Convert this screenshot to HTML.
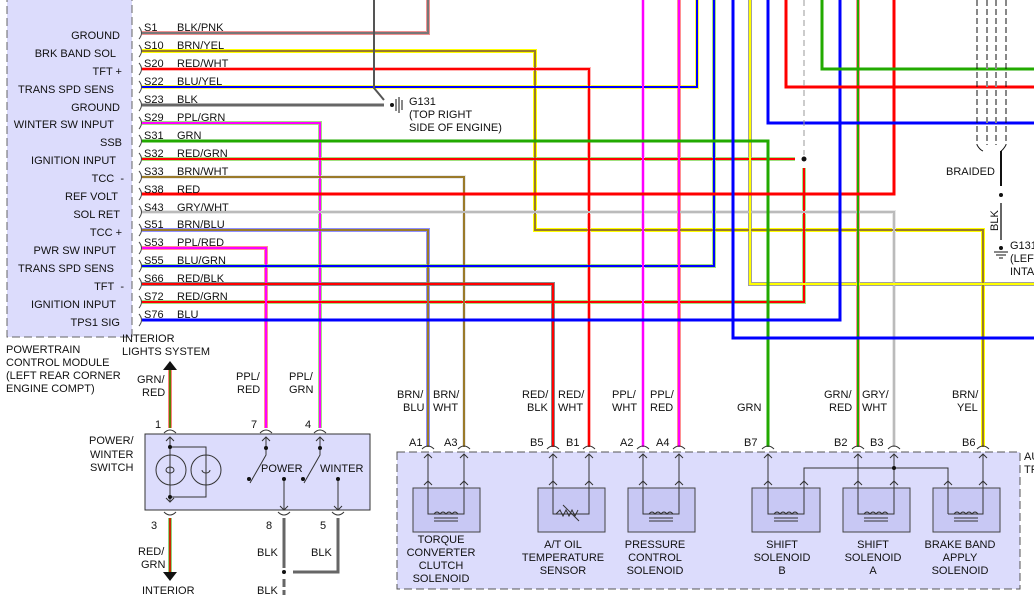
<!DOCTYPE html>
<html><head><meta charset="utf-8"><style>
body{margin:0;background:#fff}
svg{display:block;font-family:"Liberation Sans",sans-serif;font-size:11px}
.w{fill:none;stroke-linejoin:miter}
</style></head><body>
<svg width="1034" height="595" viewBox="0 0 1034 595" xmlns="http://www.w3.org/2000/svg">
<rect x="7" y="-2" width="125" height="339" fill="#dcdcfc" stroke="#666" stroke-dasharray="8,4"/>
<g text-anchor="end" fill="#111">
<text x="120" y="39">GROUND</text><text x="116" y="57">BRK BAND SOL</text><text x="122" y="75">TFT +</text>
<text x="114" y="93">TRANS SPD SENS</text><text x="120" y="111">GROUND</text><text x="114" y="128">WINTER SW INPUT</text>
<text x="122" y="146">SSB</text><text x="116" y="164">IGNITION INPUT</text><text x="124" y="182">TCC&#160;&#160;-</text>
<text x="118" y="200">REF VOLT</text><text x="120" y="218">SOL RET</text><text x="122" y="236">TCC +</text>
<text x="116" y="254">PWR SW INPUT</text><text x="114" y="272">TRANS SPD SENS</text><text x="124" y="290">TFT&#160;&#160;-</text>
<text x="116" y="308">IGNITION INPUT</text><text x="120" y="326">TPS1 SIG</text>
</g>
<g fill="#111"><text x="6" y="353">POWERTRAIN</text><text x="6" y="366">CONTROL MODULE</text><text x="6" y="379">(LEFT REAR CORNER</text><text x="6" y="392">ENGINE COMPT)</text></g>

<g class="w" stroke-width="4">
<polyline stroke="#f09090" points="142,33 428,33 428,0"/>
<polyline stroke="#ffff00" points="142,51 535,51 535,230 983,230 983,447"/>
<polyline stroke="#ffb0b0" points="142,69 589,69 589,447"/>
<polyline stroke="#ffff40" points="142,87 697,87 697,0"/>
<polyline stroke="#a0e080" points="142,123 320,123 320,428"/>
<polyline stroke="#a0e080" points="142,159 795,159"/>
<polyline stroke="#a0e080" points="804,168 804,302 142,302"/>
<polyline stroke="#e8e8e8" points="142,177 464,177 464,447"/>
<polyline stroke="#e8e8e8" points="142,212 894,212 894,447"/>
<polyline stroke="#9090ff" points="142,230 428,230 428,447"/>
<polyline stroke="#ff9090" points="142,248 266,248 266,428"/>
<polyline stroke="#a0e080" points="142,266 714,266 714,0"/>
<polyline stroke="#888" points="142,284 553,284 553,447"/>
<polyline stroke="#ffc0ff" points="643,0 643,447"/>
<polyline stroke="#ff9090" points="679,0 679,447"/>
<polyline stroke="#a0a0a0" points="750,0 750,284 1034,284"/>
<polyline stroke="#ff9090" points="858,0 858,447"/>
</g>
<g class="w" stroke-width="2">
<polyline stroke="#777" points="142,33 428,33 428,0"/>
<polyline stroke="#9a7a2a" points="142,51 535,51 535,230 983,230 983,447"/>
<polyline stroke="#ff0000" points="142,69 589,69 589,447"/>
<polyline stroke="#0000ff" points="142,87 697,87 697,0"/>
<polyline stroke="#ff00ff" points="142,123 320,123 320,428"/>
<polyline stroke="#ff0000" points="142,159 795,159"/>
<polyline stroke="#ff0000" points="804,168 804,302 142,302"/>
<polyline stroke="#9a7a2a" points="142,177 464,177 464,447"/>
<polyline stroke="#bbb" points="142,212 894,212 894,447"/>
<polyline stroke="#9a7a2a" points="142,230 428,230 428,447"/>
<polyline stroke="#ff00ff" points="142,248 266,248 266,428"/>
<polyline stroke="#0000ff" points="142,266 714,266 714,0"/>
<polyline stroke="#ff0000" points="142,284 553,284 553,447"/>
<polyline stroke="#ff00ff" points="643,0 643,447"/>
<polyline stroke="#ff00ff" points="679,0 679,447"/>
<polyline stroke="#ffff00" points="750,0 750,284 1034,284"/>
<polyline stroke="#22aa00" points="858,0 858,447"/>
</g>
<g class="w" stroke-width="3">
<polyline stroke="#666" points="142,105 384,105"/>
<polyline stroke="#555" stroke-width="2" points="374,0 374,88 384,100"/>
<polyline stroke="#22aa00" points="142,141 768,141 768,447"/>
<polyline stroke="#ff0000" points="142,194 894,194 894,0"/>
<polyline stroke="#0000ff" points="142,320 840,320 840,0"/>
<polyline stroke="#0000ff" points="733,0 733,338 1034,338"/>
<polyline stroke="#0000ff" points="768,0 768,123 1034,123"/>
<polyline stroke="#ff0000" points="786,0 786,87 1034,87"/>
<polyline stroke="#22aa00" points="822,0 822,69 1034,69"/>
</g>
<line x1="804" y1="0" x2="804" y2="155" stroke="#999" stroke-dasharray="6,4"/>
<circle cx="804" cy="159" r="2.5" fill="#111"/>
<g fill="#111">
<text x="144" y="31">S1</text><text x="177" y="31">BLK/PNK</text>
<text x="144" y="49">S10</text><text x="177" y="49">BRN/YEL</text>
<text x="144" y="67">S20</text><text x="177" y="67">RED/WHT</text>
<text x="144" y="85">S22</text><text x="177" y="85">BLU/YEL</text>
<text x="144" y="103">S23</text><text x="177" y="103">BLK</text>
<text x="144" y="121">S29</text><text x="177" y="121">PPL/GRN</text>
<text x="144" y="139">S31</text><text x="177" y="139">GRN</text>
<text x="144" y="157">S32</text><text x="177" y="157">RED/GRN</text>
<text x="144" y="175">S33</text><text x="177" y="175">BRN/WHT</text>
<text x="144" y="193">S38</text><text x="177" y="193">RED</text>
<text x="144" y="211">S43</text><text x="177" y="211">GRY/WHT</text>
<text x="144" y="228">S51</text><text x="177" y="228">BRN/BLU</text>
<text x="144" y="246">S53</text><text x="177" y="246">PPL/RED</text>
<text x="144" y="264">S55</text><text x="177" y="264">BLU/GRN</text>
<text x="144" y="282">S66</text><text x="177" y="282">RED/BLK</text>
<text x="144" y="300">S72</text><text x="177" y="300">RED/GRN</text>
<text x="144" y="318">S76</text><text x="177" y="318">BLU</text>
</g>
<g fill="none" stroke="#444" stroke-width="1">
<path d="M139,27 q5,6 0,12 M139,45 q5,6 0,12 M139,63 q5,6 0,12 M139,81 q5,6 0,12 M139,99 q5,6 0,12 M139,117 q5,6 0,12 M139,135 q5,6 0,12 M139,153 q5,6 0,12 M139,171 q5,6 0,12 M139,188 q5,6 0,12 M139,206 q5,6 0,12 M139,224 q5,6 0,12 M139,242 q5,6 0,12 M139,260 q5,6 0,12 M139,278 q5,6 0,12 M139,296 q5,6 0,12 M139,314 q5,6 0,12"/>
</g>
<circle cx="392" cy="105" r="2" fill="#111"/>
<path d="M396,99 v12 M399,97 v16 M402,100 v10" stroke="#111"/>
<g fill="#111"><text x="409" y="105">G131</text><text x="409" y="118">(TOP RIGHT</text><text x="409" y="131">SIDE OF ENGINE)</text></g>
<g stroke="#111" stroke-dasharray="6,3"><line x1="977" y1="0" x2="977" y2="145"/><line x1="1006" y1="0" x2="1006" y2="145"/></g>
<g stroke="#888" stroke-dasharray="6,3" stroke-width="2"><line x1="987" y1="0" x2="987" y2="145"/><line x1="996" y1="0" x2="996" y2="145"/></g>
<path d="M977,145 q3,5 6,6 M1006,145 q-3,5 -5,6" stroke="#111" fill="none"/>
<line x1="1001" y1="151" x2="1001" y2="186" stroke="#111" stroke-width="2"/>
<circle cx="1001" cy="195" r="2" fill="#111"/>
<line x1="1001" y1="203" x2="1001" y2="240" stroke="#333" stroke-width="1.5"/>
<circle cx="1001" cy="248" r="2" fill="#111"/>
<path d="M994,252 h14 M996,255 h10 M999,258 h4" stroke="#111"/>
<text x="946" y="175" fill="#111">BRAIDED</text>
<text transform="translate(998,231) rotate(-90)" fill="#111">BLK</text>
<g fill="#111"><text x="1010" y="249">G131</text><text x="1010" y="262">(LEF</text><text x="1010" y="275">INTA</text></g>

<text x="122" y="342" fill="#111">INTERIOR</text><text x="122" y="355" fill="#111">LIGHTS SYSTEM</text>
<path d="M163,370 L170,361 L177,370 Z" fill="#111"/>
<line x1="170" y1="370" x2="170" y2="428" stroke="#ff0000" stroke-width="3"/>
<line x1="170" y1="370" x2="170" y2="428" stroke="#22aa00" stroke-width="1.5"/>
<text x="137" y="383" fill="#111">GRN/</text><text x="142" y="396" fill="#111">RED</text>
<text x="236" y="380" fill="#111">PPL/</text><text x="237" y="393" fill="#111">RED</text>
<text x="289" y="380" fill="#111">PPL/</text><text x="289" y="393" fill="#111">GRN</text>
<text x="155" y="428" fill="#111">1</text><text x="251" y="428" fill="#111">7</text><text x="305" y="428" fill="#111">4</text>
<rect x="145" y="434" width="225" height="76" fill="#dcdcfc" stroke="#333"/>
<g fill="#111"><text x="89" y="444">POWER/</text><text x="90" y="458">WINTER</text><text x="90" y="471">SWITCH</text></g>
<g stroke="#333" fill="none">
<path d="M164,433 q6,-6 12,0 M260,433 q6,-6 12,0 M314,433 q6,-6 12,0 M164,512 q6,6 12,0 M278,512 q6,6 12,0 M332,512 q6,6 12,0"/>
<path d="M170,437 v65 M166,441 l4,-4 4,4 M166,498 l4,4 4,-4"/>
<path d="M170,447 h36 v50 h-36"/>
<circle cx="171" cy="470" r="15"/><circle cx="206" cy="470" r="15"/>
<path d="M166,470 a4,3 0 1,0 8,0 a4,3 0 1,0 -8,0 M202,470 a4,3 0 1,0 8,0"/>
<path d="M266,437 v18 l-16,28 M262,441 l4,-4 4,4 M320,437 v18 l-16,28 M316,441 l4,-4 4,4"/>
<path d="M284,480 v30 M280,506 l4,4 4,-4 M338,480 v30 M334,506 l4,4 4,-4"/>
</g>
<g fill="#111"><circle cx="170" cy="447" r="2"/><circle cx="170" cy="497" r="2"/><circle cx="266" cy="448" r="2"/><circle cx="320" cy="448" r="2"/><circle cx="249" cy="479" r="2"/><circle cx="303" cy="479" r="2"/><circle cx="284" cy="479" r="2"/><circle cx="338" cy="479" r="2"/></g>
<text x="261" y="472" fill="#111">POWER</text><text x="320" y="472" fill="#111">WINTER</text>
<text x="151" y="529" fill="#111">3</text><text x="266" y="529" fill="#111">8</text><text x="320" y="529" fill="#111">5</text>
<line x1="170" y1="518" x2="170" y2="573" stroke="#22aa00" stroke-width="3"/>
<line x1="170" y1="518" x2="170" y2="573" stroke="#ff0000" stroke-width="1.5"/>
<path d="M163,572 L170,581 L177,572 Z" fill="#111"/>
<text x="138" y="555" fill="#111">RED/</text><text x="141" y="568" fill="#111">GRN</text>
<text x="142" y="594" fill="#111">INTERIOR</text>
<g stroke="#666" stroke-width="3" fill="none"><path d="M284,518 v50 M338,518 v54 h-45"/></g>
<circle cx="284" cy="572" r="2" fill="#111"/>
<line x1="284" y1="579" x2="284" y2="595" stroke="#666" stroke-width="3" stroke-dasharray="8,3"/>
<text x="257" y="556" fill="#111">BLK</text><text x="311" y="556" fill="#111">BLK</text><text x="257" y="594" fill="#111">BLK</text>

<rect x="397" y="452" width="623" height="137" fill="#dcdcfc" stroke="#555" stroke-dasharray="8,4"/>
<text x="1024" y="460" fill="#111">AU</text><text x="1024" y="473" fill="#111">TR</text>
<g fill="#111">
<text x="397" y="398">BRN/</text><text x="403" y="411">BLU</text><text x="433" y="398">BRN/</text><text x="433" y="411">WHT</text>
<text x="522" y="398">RED/</text><text x="527" y="411">BLK</text><text x="558" y="398">RED/</text><text x="558" y="411">WHT</text>
<text x="612" y="398">PPL/</text><text x="612" y="411">WHT</text><text x="650" y="398">PPL/</text><text x="650" y="411">RED</text>
<text x="737" y="411">GRN</text>
<text x="824" y="398">GRN/</text><text x="829" y="411">RED</text><text x="862" y="398">GRY/</text><text x="862" y="411">WHT</text>
<text x="952" y="398">BRN/</text><text x="957" y="411">YEL</text>
<text x="409" y="446">A1</text><text x="444" y="446">A3</text><text x="530" y="446">B5</text><text x="566" y="446">B1</text>
<text x="620" y="446">A2</text><text x="656" y="446">A4</text><text x="744" y="446">B7</text>
<text x="834" y="446">B2</text><text x="870" y="446">B3</text><text x="962" y="446">B6</text>
</g>
<g fill="#c8c8f4" stroke="#444">
<rect x="413" y="488" width="67" height="44"/><rect x="538" y="488" width="67" height="44"/>
<rect x="628" y="488" width="67" height="44"/><rect x="752" y="488" width="68" height="44"/>
<rect x="843" y="488" width="67" height="44"/><rect x="933" y="488" width="67" height="44"/>
</g>
<g stroke="#333" fill="none">
<path d="M422,449 q6,-6 12,0 M458,449 q6,-6 12,0 M547,449 q6,-6 12,0 M583,449 q6,-6 12,0 M637,449 q6,-6 12,0 M673,449 q6,-6 12,0 M762,449 q6,-6 12,0 M852,449 q6,-6 12,0 M888,449 q6,-6 12,0 M977,449 q6,-6 12,0"/>
<path d="M428,454 v60 h36 v-60 M553,454 v60 h36 v-60 M643,454 v60 h36 v-60 M768,454 v60 h36 v-46 h144 v46 M858,454 v60 h36 v-60 M948,514 h35 v-60"/>
<path d="M424,458 l4,-4 4,4 M460,458 l4,-4 4,4 M549,458 l4,-4 4,4 M585,458 l4,-4 4,4 M639,458 l4,-4 4,4 M675,458 l4,-4 4,4 M764,458 l4,-4 4,4 M854,458 l4,-4 4,4 M890,458 l4,-4 4,4 M979,458 l4,-4 4,4"/>
<path d="M424,485 l4,-4 4,4 M460,485 l4,-4 4,4 M549,485 l4,-4 4,4 M585,485 l4,-4 4,4 M639,485 l4,-4 4,4 M675,485 l4,-4 4,4 M764,485 l4,-4 4,4 M800,485 l4,-4 4,4 M854,485 l4,-4 4,4 M890,485 l4,-4 4,4 M944,485 l4,-4 4,4 M979,485 l4,-4 4,4"/>
<path d="M434,514 q3,-4 6,0 q3,-4 6,0 q3,-4 6,0 q3,-4 6,0 M434,518 h24 M434,521 h24"/>
<path d="M649,514 q3,-4 6,0 q3,-4 6,0 q3,-4 6,0 q3,-4 6,0 M649,518 h24 M649,521 h24"/>
<path d="M774,514 q3,-4 6,0 q3,-4 6,0 q3,-4 6,0 q3,-4 6,0 M774,518 h24 M774,521 h24"/>
<path d="M864,514 q3,-4 6,0 q3,-4 6,0 q3,-4 6,0 q3,-4 6,0 M864,518 h24 M864,521 h24"/>
<path d="M954,514 q3,-4 6,0 q3,-4 6,0 q3,-4 6,0 q3,-4 6,0 M954,518 h24 M954,521 h24"/>
<path d="M556,514 l4,-4 3,6 3,-6 3,6 3,-6 3,6 3,-6 M563,505 l16,16"/>
</g>
<circle cx="894" cy="468" r="2" fill="#111"/>
<g fill="#111" text-anchor="middle">
<text x="441" y="543">TORQUE</text><text x="441" y="556">CONVERTER</text><text x="441" y="569">CLUTCH</text><text x="441" y="582">SOLENOID</text>
<text x="563" y="548">A/T OIL</text><text x="563" y="561">TEMPERATURE</text><text x="563" y="574">SENSOR</text>
<text x="655" y="548">PRESSURE</text><text x="655" y="561">CONTROL</text><text x="655" y="574">SOLENOID</text>
<text x="782" y="548">SHIFT</text><text x="782" y="561">SOLENOID</text><text x="782" y="574">B</text>
<text x="873" y="548">SHIFT</text><text x="873" y="561">SOLENOID</text><text x="873" y="574">A</text>
<text x="960" y="548">BRAKE BAND</text><text x="960" y="561">APPLY</text><text x="960" y="574">SOLENOID</text>
</g>
</svg>
</body></html>
